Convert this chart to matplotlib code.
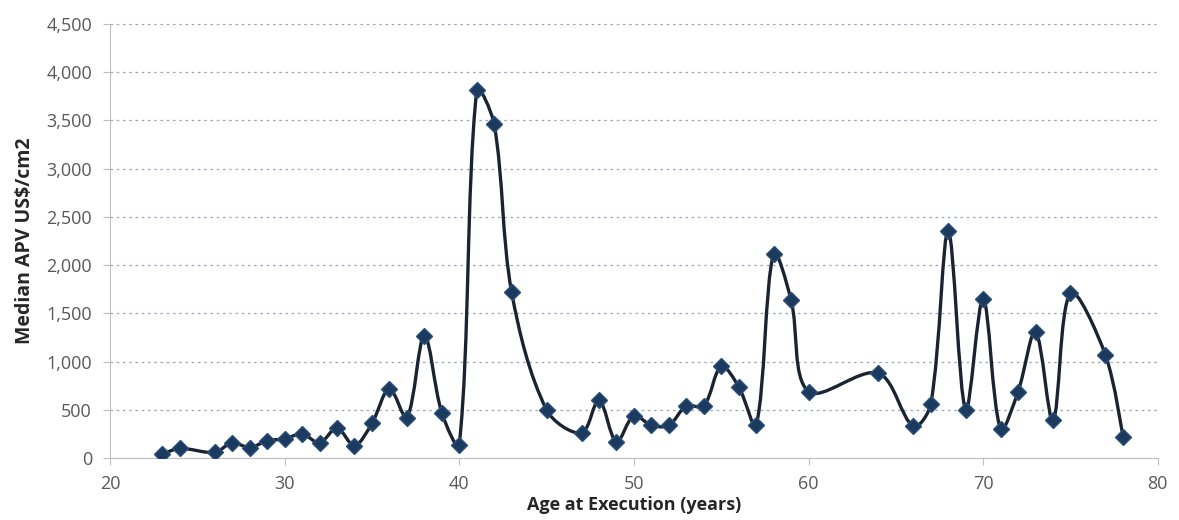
import numpy as np
import matplotlib
matplotlib.use('Agg')
from matplotlib import pyplot as plt
from matplotlib.path import Path
import matplotlib.patches as mpatches
from matplotlib.ticker import FuncFormatter

age = [23, 24, 26, 27, 28, 29, 30, 31, 32, 33, 34, 35, 36, 37, 38, 39, 40,
       41, 42, 43, 45, 47, 48, 49, 50, 51, 52, 53, 54, 55, 56, 57, 58, 59, 60,
       64, 66, 67, 68, 69, 70, 71, 72, 73, 74, 75, 77, 78]
apv = [40, 100, 60, 160, 110, 180, 200, 250, 160, 310, 130, 360, 720, 420, 1270, 470, 140,
       3810, 3460, 1720, 500, 260, 600, 170, 440, 340, 340, 540, 540, 950, 740, 340, 2120, 1640, 690,
       880, 330, 560, 2350, 500, 1650, 300, 690, 1310, 390, 1710, 1070, 220]

plt.rcParams['font.family'] = ['Open Sans', 'DejaVu Sans']

fig = plt.figure(figsize=(11.79, 5.2), dpi=100)
ax = fig.add_axes([0.0933, 0.119, 0.8887, 0.835])
ax.set_xlim(20, 80)
ax.set_ylim(0, 4500)

# smoothed line like excel: bezier segments, tangents weighted by segment length in pixels
pts = ax.transData.transform(np.column_stack([age, apv]))
n = len(pts)
verts = [pts[0]]
codes = [Path.MOVETO]
for i in range(n - 1):
    p0 = pts[max(i - 1, 0)]
    p1 = pts[i]
    p2 = pts[i + 1]
    p3 = pts[min(i + 2, n - 1)]
    d01 = np.hypot(*(p1 - p0))
    d12 = np.hypot(*(p2 - p1))
    d23 = np.hypot(*(p3 - p2))
    c1 = p1 + (p2 - p0) * d12 / (d01 + d12) / 3 if d01 > 0 else p1
    c2 = p2 - (p3 - p1) * d12 / (d12 + d23) / 3 if d23 > 0 else p2
    verts += [c1, c2, p2]
    codes += [Path.CURVE4] * 3
verts = ax.transData.inverted().transform(np.array(verts))
curve = mpatches.PathPatch(Path(verts, codes), facecolor='none', edgecolor='#1b2331',
                           lw=2.4, zorder=3, capstyle='round', joinstyle='round')
ax.add_patch(curve)

ax.plot(age, apv, linestyle='none', marker='D', markersize=8.5,
        markerfacecolor='#1c3a5e', markeredgecolor='#2a4f7a', markeredgewidth=1.0, zorder=4)

ax.set_xticks(range(20, 81, 10))
ax.set_yticks(range(0, 4501, 500))
ax.yaxis.set_major_formatter(FuncFormatter(lambda v, p: f'{int(v):,}'))

ax.grid(axis='y', color='#9aa3bf', linestyle=(0, (2, 3)), linewidth=0.9)
ax.set_axisbelow(True)
for s in ['top', 'right']:
    ax.spines[s].set_visible(False)
ax.spines['left'].set_color('#bfbfbf')
ax.spines['bottom'].set_color('#bfbfbf')
ax.tick_params(axis='both', colors='#bfbfbf', labelcolor='#595959', labelsize=13, length=5)
ax.tick_params(axis='y', pad=8)
ax.tick_params(axis='x', pad=7)

ax.set_xlabel('Age at Execution (years)', fontsize=13, fontweight='bold', color='#262626', labelpad=2)
ax.set_ylabel('Median APV US$/cm2', fontsize=14, fontweight='bold', color='#262626', labelpad=8)

fig.savefig('out.png', dpi=100)
